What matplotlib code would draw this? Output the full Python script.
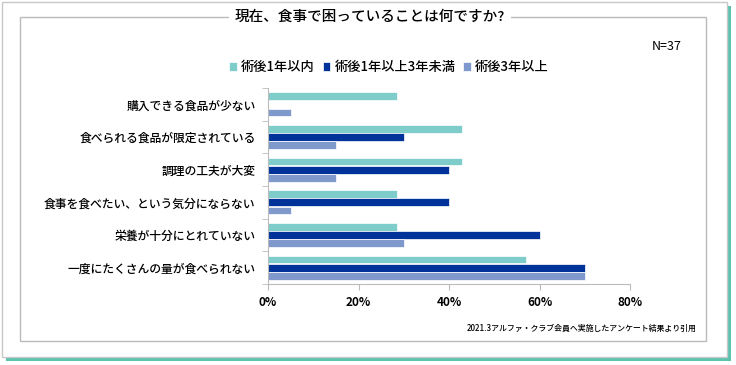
import matplotlib.pyplot as plt
from matplotlib.patches import Rectangle
import numpy as np

plt.rcParams['font.family'] = ['Noto Sans CJK JP', 'DejaVu Sans']

title = '現在、食事で困っていることは何ですか?'
categories = ['購入できる食品が少ない', '食べられる食品が限定されている', '調理の工夫が大変',
              '食事を食べたい、という気分にならない', '栄養が十分にとれていない', '一度にたくさんの量が食べられない']
series_names = ['術後1年以内', '術後1年以上3年未満', '術後3年以上']
within_1y = [28.6, 42.9, 42.9, 28.6, 28.6, 57.1]
y1_to_3 = [0, 30, 40, 40, 60, 70]
over_3y = [5, 15, 15, 5, 30, 70]
xticks = [0, 20, 40, 60, 80]
note = '2021.3アルファ・クラブ会員へ実施したアンケート結果より引用'
n_label = 'N=37'

colors = ['#7FCDCB', '#003399', '#7F99CC']

W, H = 736, 365
fig = plt.figure(figsize=(W / 100, H / 100), dpi=100)

def fx(x):
    return x / W

def fy(y):
    return 1 - y / H

# outer card with teal shadow
fig.add_artist(Rectangle((fx(6), fy(361)), fx(725), 355 / H, transform=fig.transFigure,
                         facecolor='#5CC4AE', edgecolor='none', zorder=0))
fig.add_artist(Rectangle((fx(2), fy(357)), fx(725), 355 / H, transform=fig.transFigure,
                         facecolor='white', edgecolor='#C8C8C8', lw=1, zorder=0))
# inner frame
fig.add_artist(Rectangle((fx(20), fy(341)), fx(686), 324 / H, transform=fig.transFigure,
                         facecolor='none', edgecolor='#BBBBBB', lw=1, zorder=1))
fig.text(fx(370), fy(17), title, ha='center', va='center', fontsize=10.5, fontweight='medium',
         zorder=2, bbox=dict(facecolor='white', edgecolor='none', pad=4))
fig.text(fx(682), fy(47), n_label, ha='right', va='center', fontsize=9)
fig.text(fx(697), fy(328), note, ha='right', va='center', fontsize=5.7, fontweight='medium')

ax = fig.add_axes([fx(268), fy(284), fx(362), 196 / H])
y = np.arange(len(categories))
h = 0.235
off = 0.25
for vals, c, name, d in zip([within_1y, y1_to_3, over_3y], colors, series_names, [-off, 0, off]):
    ax.barh(y + d, vals, height=h, color=c, edgecolor='white', lw=0.5, label=name)

ax.set_xlim(0, 80)
ax.set_ylim(len(categories) - 0.5, -0.5)
ax.set_xticks(xticks)
ax.set_xticklabels([f'{t}%' for t in xticks], fontsize=8.5, fontweight='bold')
ax.set_yticks(y)
ax.set_yticklabels(categories, fontsize=8.5, fontweight='medium')
ax.set_yticks(np.arange(-0.5, len(categories)), minor=True)
ax.tick_params(axis='y', which='major', length=0, pad=9)
ax.tick_params(axis='y', which='minor', length=4, color='#BBBBBB')
ax.tick_params(axis='x', length=4, color='#BBBBBB', pad=5)
for s in ['top', 'right']:
    ax.spines[s].set_visible(False)
for s in ['left', 'bottom']:
    ax.spines[s].set_color('#BBBBBB')

fig.legend(loc='center', bbox_to_anchor=(fx(389), fy(67)), ncol=3, frameon=False,
           prop=dict(size=9.5, weight='medium'), handlelength=0.6, handleheight=0.6,
           handletextpad=0.3, columnspacing=0.6)

fig.savefig('out.png', dpi=100)
